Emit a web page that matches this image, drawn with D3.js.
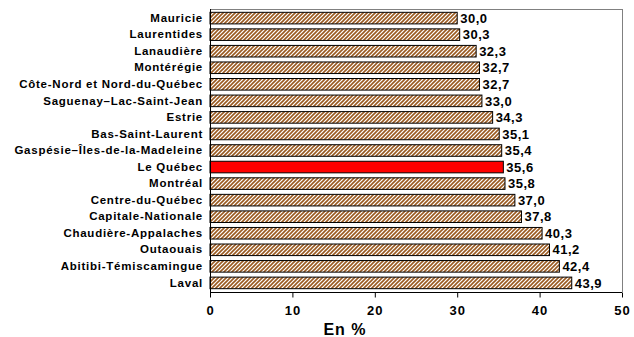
<!DOCTYPE html>
<html><head><meta charset="utf-8">
<script src="https://cdn.jsdelivr.net/npm/d3@7"></script>
<style>body{margin:0;background:#fff}svg{display:block;font-family:"Liberation Sans",Arial,sans-serif;font-weight:bold}</style>
</head><body><svg id="c" width="634" height="337"></svg>
<script>
const regions = ["Mauricie","Laurentides","Lanaudière","Montérégie","Côte-Nord et Nord-du-Québec","Saguenay–Lac-Saint-Jean","Estrie","Bas-Saint-Laurent","Gaspésie–Îles-de-la-Madeleine","Le Québec","Montréal","Centre-du-Québec","Capitale-Nationale","Chaudière-Appalaches","Outaouais","Abitibi-Témiscamingue","Laval"];
const values = [30.0,30.3,32.3,32.7,32.7,33.0,34.3,35.1,35.4,35.6,35.8,37.0,37.8,40.3,41.2,42.4,43.9];
const highlight = "Le Québec";
const xTicks = [0,10,20,30,40,50];
const xTitle = "En %";

const svg = d3.select("#c");
const L=210,R=622,T=9,B=292;
const x = d3.scaleLinear().domain([0,50]).range([L,R]);
const y = d3.scaleBand().domain(regions).range([T,B]).paddingInner(0.3).paddingOuter(0.2);

const defs = svg.append("defs");
const pat = defs.append("pattern").attr("id","hatch").attr("patternUnits","userSpaceOnUse")
  .attr("width",4).attr("height",4);
pat.append("rect").attr("width",4).attr("height",4).attr("fill","#ffffff");
pat.append("path").attr("d","M-1,1L1,-1M0,4L4,0M3,5L5,3").attr("stroke","#9a5a20").attr("stroke-width",1.6);

// frame top/right
svg.append("line").attr("x1",L).attr("x2",R).attr("y1",T+0.5).attr("y2",T+0.5).attr("stroke","#808080");
svg.append("line").attr("x1",R+0.5).attr("x2",R+0.5).attr("y1",T).attr("y2",B).attr("stroke","#808080");

svg.selectAll("rect.bar").data(regions).enter().append("rect").attr("class","bar")
  .attr("x",x(0)).attr("y",d=>y(d)).attr("width",(d,i)=>x(values[i])-x(0)).attr("height",y.bandwidth())
  .attr("fill",d=>d===highlight?"#ff0000":"url(#hatch)").attr("stroke","#000").attr("stroke-width",1);

svg.selectAll("text.val").data(regions).enter().append("text").attr("class","val")
  .attr("x",(d,i)=>x(values[i])+3).attr("y",d=>y(d)+y.bandwidth()/2).attr("dy","0.36em")
  .attr("font-size","13px").attr("letter-spacing","0.5px")
  .text((d,i)=>values[i].toFixed(1).replace(".",","));

const yAxis = svg.append("g").attr("transform",`translate(${L},0)`)
  .call(d3.axisLeft(y).tickSize(0).tickPadding(7));
yAxis.select(".domain").attr("stroke","#000").attr("d",`M0.5,${T}V${B}`);
yAxis.selectAll("text").attr("font-size","11.5px").attr("font-family","Liberation Sans, Arial").attr("font-weight","bold").attr("letter-spacing","0.75px").attr("fill","#000");

const xAxis = svg.append("g").attr("transform",`translate(0,${B+0.5})`)
  .call(d3.axisBottom(x).tickValues(xTicks).tickSize(5).tickPadding(8).tickFormat(d3.format("d")));
xAxis.select(".domain").attr("stroke","#000").attr("d",`M${L},0H${R}`);
xAxis.selectAll("line").attr("stroke","#000");
xAxis.selectAll("text").attr("font-size","13px").attr("font-family","Liberation Sans, Arial").attr("font-weight","bold").attr("letter-spacing","1px").attr("fill","#000");

svg.append("text").attr("x",345).attr("y",335).attr("text-anchor","middle")
  .attr("font-size","16px").attr("letter-spacing","1px").text(xTitle);
</script></body></html>
